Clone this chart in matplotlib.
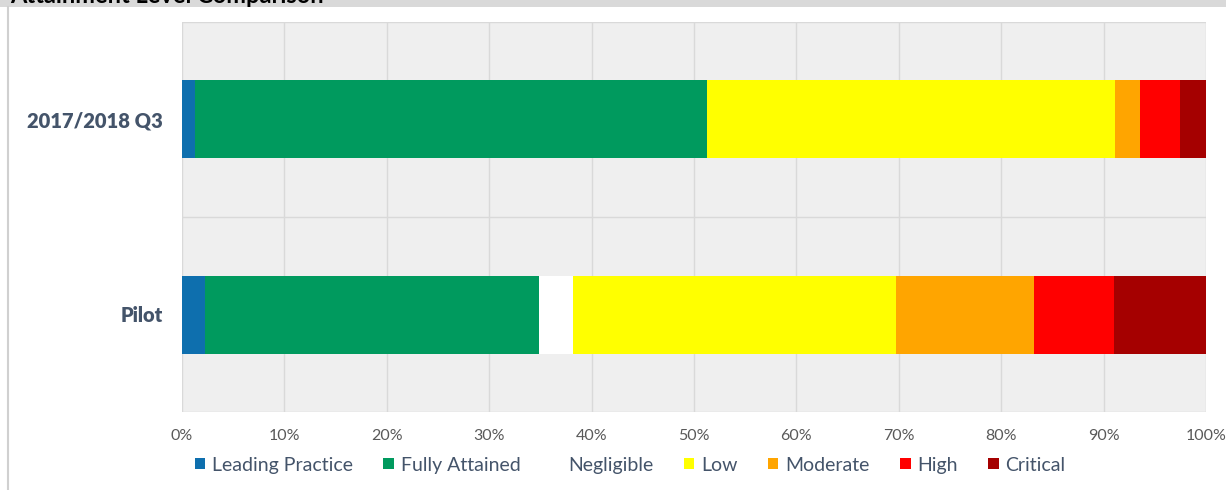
import matplotlib.pyplot as plt
from matplotlib.patches import Rectangle
from matplotlib.lines import Line2D

plt.rcParams['font.family'] = ['Lato', 'DejaVu Sans']

# Data: share of findings per level (percent), each row sums to 100
periods = ["Pilot", "2017/2018 Q3"]
levels = ["Leading Practice", "Fully Attained", "Negligible", "Low",
          "Moderate", "High", "Critical"]
pilot = [2.2, 32.7, 3.3, 31.5, 13.5, 7.8, 9.0]
q3_2017_2018 = [1.3, 50.0, 0.0, 39.8, 2.5, 3.9, 2.5]
colors = ["#0e6fae", "#009a5e", "#ffffff", "#ffff00", "#ffa500",
          "#ff0000", "#a50000"]
x_ticks = list(range(0, 101, 10))
x_tick_labels = [f"{t}%" for t in x_ticks]

series = [pilot, q3_2017_2018]

fig = plt.figure(figsize=(12.26, 4.9), dpi=100)
fig.patch.set_facecolor("white")

# Header band and page border
fig.patches.append(Rectangle((0, 1 - 7 / 490), 1, 7 / 490, transform=fig.transFigure,
                             facecolor="#d9d9d9", edgecolor="none", zorder=0))
fig.lines.append(Line2D([8 / 1226, 8 / 1226], [0, 1 - 7 / 490], transform=fig.transFigure,
                        color="#d0d0d0", linewidth=1.5))
fig.text(10 / 1226, 1 - 3 / 490, "Attainment Level Comparison", fontsize=17,
         fontweight="bold", color="black", ha="left", va="baseline")

ax = fig.add_axes([182 / 1226, 1 - 412 / 490, 1024 / 1226, 390 / 490])
ax.set_facecolor("#efefef")

ypos = list(range(len(periods)))
for row, vals in zip(ypos, series):
    left = 0.0
    for val, col in zip(vals, colors):
        ax.barh(row, val, left=left, height=0.4, color=col, edgecolor="none", zorder=3)
        left += val

ax.set_xlim(0, 100)
ax.set_ylim(-0.5, 1.5)
ax.set_xticks(x_ticks)
ax.set_xticklabels(x_tick_labels, fontsize=11.5, color="#595959")
ax.set_yticks(ypos)
ax.set_yticklabels(periods, fontsize=14.5, fontweight="heavy", color="#44546a")
ax.tick_params(axis="x", length=0, pad=12)
ax.tick_params(axis="y", length=0, pad=14)

for t in x_ticks:
    ax.axvline(t, color="#d9d9d9", linewidth=1, zorder=1)
for yb in [-0.5, 0.5, 1.5]:
    ax.axhline(yb, color="#d9d9d9", linewidth=1, zorder=1)
for s in ax.spines.values():
    s.set_visible(False)

handles = [Rectangle((0, 0), 1, 1, facecolor=c, edgecolor="none") for c in colors]
leg = fig.legend(handles, levels, loc="center", ncol=7, frameon=False,
                 bbox_to_anchor=(0.514, 1 - 465 / 490), fontsize=14,
                 handlelength=0.55, handleheight=0.55, handletextpad=0.35,
                 columnspacing=1.55)
for txt in leg.get_texts():
    txt.set_color("#44546a")

fig.savefig("out.png", dpi=100, facecolor="white")
